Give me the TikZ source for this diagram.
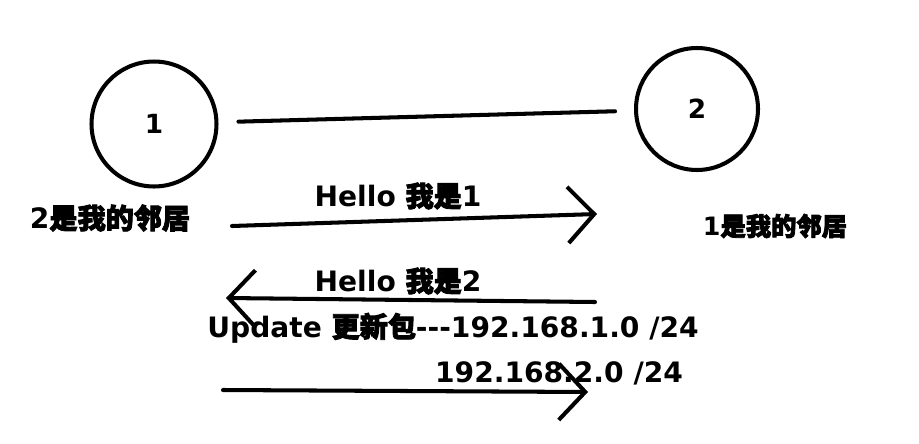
\documentclass[tikz,border=0pt]{standalone}
\usepackage{fontspec}
\usetikzlibrary{arrows.meta,positioning}
\setmainfont{DejaVu Sans}
\newfontfamily\cjk{Noto Sans CJK SC}[FakeBold=3]

\begin{document}
\begin{tikzpicture}[
        x=0.02cm, y=-0.02cm,
        >={Straight Barb[length=15pt,width=32pt]},
        router/.style={
            draw,
            circle,
            line width=2.3pt,
            inner sep=0pt,
            font=\bfseries\fontsize{15}{15}\selectfont
        },
        lbl/.style={inner sep=0pt, font=\bfseries\fontsize{16}{16}\selectfont},
        link/.style={line width=2.3pt, line cap=round},
        msg/.style={->, line width=2.3pt, line cap=round}
    ]
        \useasboundingbox (0,0) rectangle (919,443);

        \node[router, minimum size=2.5cm] (r1) at (154,124) {1};
        \node[router, minimum size=2.44cm] (r2) at (697,109) {2};
        \draw[link, shorten <=0.4cm, shorten >=0.38cm] (r1) -- (r2);

        \node[lbl] (nb1) at (110,218) {2{\cjk 是我的邻居}};
        \node[lbl, font=\bfseries\fontsize{14.4}{14}\selectfont] (nb2) at (775,226) {1{\cjk 是我的邻居}};

        % hello from 1
        \node[lbl] (h1) at (398,196) {Hello {\cjk 我是}1};
        \coordinate (h1s) at (232,226);
        \coordinate (h1e) at (597,214);
        \draw[msg] (h1s) -- (h1e);

        % hello from 2
        \node[lbl] (h2) at (398,281) {Hello {\cjk 我是}2};
        \coordinate (h2s) at (595,302);
        \coordinate (h2e) at (226,298);
        \draw[msg] (h2s) -- (h2e);

        % update
        \node[lbl] (up) at (453,328) {Update {\cjk 更新包}-{}-{}-192.168.1.0 /24};
        \node[lbl] (up2) at (559,373) {192.168.2.0 /24};
        \coordinate (ups) at (223,390);
        \coordinate (upe) at (588,392);
        \draw[msg] (ups) -- (upe);
    \end{tikzpicture}
\end{document}
